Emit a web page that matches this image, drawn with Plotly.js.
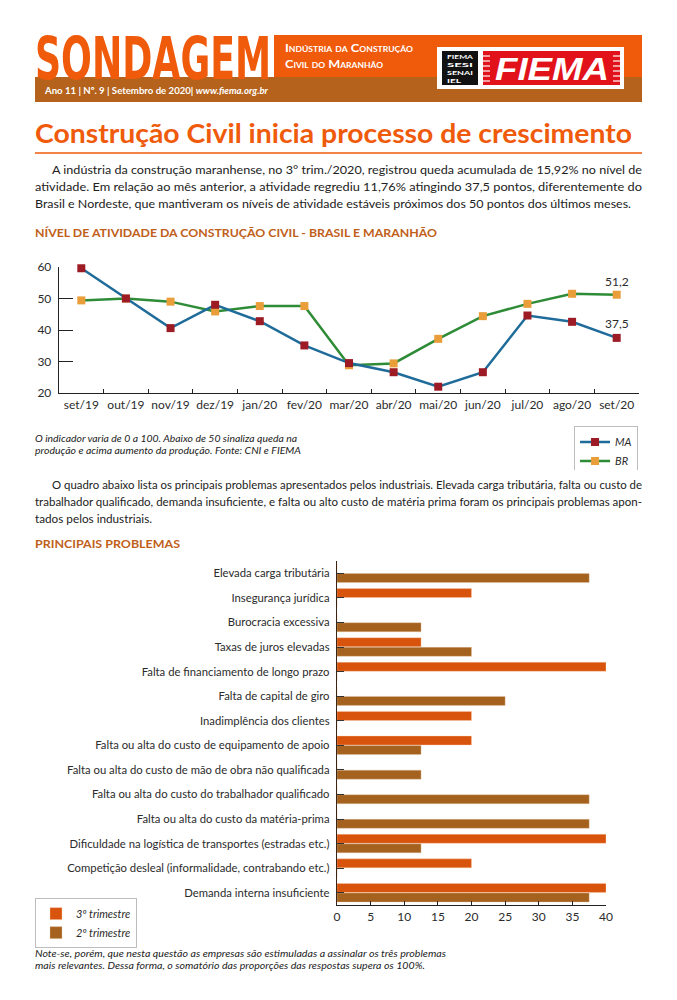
<!DOCTYPE html>
<html>
<head>
<meta charset="utf-8">
<script src="https://cdn.plot.ly/plotly-3.0.1.min.js"></script>
<style>
  html, body { margin: 0; padding: 0; background: #ffffff; }
  #page { position: relative; width: 677px; height: 1000px; overflow: hidden; background: #fff; }
  #bg { position: absolute; left: 0; top: 0; }
  #lineChart { position: absolute; left: 0; top: 250px; width: 677px; height: 220px; }
  #barChart { position: absolute; left: 0; top: 555px; width: 677px; height: 400px; }
  text { font-family: Lato, "Open Sans", sans-serif; }
</style>
</head>
<body>
<div id="page">
<svg id="bg" width="677" height="1000" xmlns="http://www.w3.org/2000/svg">
  <!-- header -->
  <rect x="274" y="35" width="368" height="42" fill="#ef5a0b"/>
  <rect x="35" y="77" width="607" height="25" fill="#b5631c"/>
  <g transform="translate(35,79) scale(1,1.48)">
    <text x="0" y="0" font-weight="bold" font-size="40" fill="#ef5a0b" textLength="236" lengthAdjust="spacingAndGlyphs" style="font-family:'DejaVu Sans Condensed'">SONDAGEM</text>
  </g>
  <text x="285" y="52" font-size="10.5" font-weight="bold" fill="#ffffff" style="font-variant: small-caps" textLength="128" lengthAdjust="spacingAndGlyphs">Indústria da Construção</text>
  <text x="285" y="68" font-size="10.5" font-weight="bold" fill="#ffffff" style="font-variant: small-caps" textLength="98" lengthAdjust="spacingAndGlyphs">Civil do Maranhão</text>
  <rect x="437" y="47" width="187" height="42" fill="#ffffff"/>
  <rect x="442" y="51" width="36" height="34" fill="#111111"/>
  <g fill="#ffffff" font-size="5.5" font-weight="bold">
    <text x="447" y="59" textLength="26" lengthAdjust="spacingAndGlyphs">FIEMA</text>
    <text x="447" y="67" textLength="26" lengthAdjust="spacingAndGlyphs">SESI</text>
    <text x="447" y="75" textLength="26" lengthAdjust="spacingAndGlyphs">SENAI</text>
    <text x="447" y="83" textLength="14" lengthAdjust="spacingAndGlyphs">IEL</text>
  </g>
  <rect x="483" y="51" width="137" height="34" fill="#e2121a"/>
  <g stroke="#ffffff" stroke-width="1.2">
    <line x1="483" y1="56" x2="490" y2="56"/><line x1="483" y1="61" x2="490" y2="61"/><line x1="483" y1="66" x2="490" y2="66"/><line x1="483" y1="71" x2="490" y2="71"/><line x1="483" y1="76" x2="490" y2="76"/><line x1="483" y1="81" x2="490" y2="81"/>
    <line x1="613" y1="56" x2="620" y2="56"/><line x1="613" y1="61" x2="620" y2="61"/><line x1="613" y1="66" x2="620" y2="66"/><line x1="613" y1="71" x2="620" y2="71"/><line x1="613" y1="76" x2="620" y2="76"/><line x1="613" y1="81" x2="620" y2="81"/>
  </g>
  <text x="495" y="80" font-size="31" font-weight="bold" font-style="italic" fill="#ffffff" textLength="114" lengthAdjust="spacingAndGlyphs" style="font-family:'Liberation Sans', Arial, sans-serif">FIEMA</text>
  <text x="45" y="94" font-size="10" font-weight="bold" fill="#ffffff" textLength="223" lengthAdjust="spacingAndGlyphs">Ano 11 | Nº. 9 | Setembro de 2020| <tspan font-style="italic">www.fiema.org.br</tspan></text>

  <!-- title -->
  <text x="35" y="143" font-size="26" font-weight="bold" fill="#ef5a0b" textLength="597" lengthAdjust="spacingAndGlyphs">Construção Civil inicia processo de crescimento</text>
  <line x1="35" y1="153" x2="642" y2="153" stroke="#ef5a0b" stroke-width="1.5"/>

  <g font-size="11.8" fill="#222222">
    <text x="52" y="174" textLength="590" lengthAdjust="spacingAndGlyphs">A indústria da construção maranhense, no 3° trim./2020, registrou queda acumulada de 15,92% no nível de</text>
    <text x="35" y="191" textLength="607" lengthAdjust="spacingAndGlyphs">atividade. Em relação ao mês anterior, a atividade regrediu 11,76% atingindo 37,5 pontos, diferentemente do</text>
    <text x="35" y="208" textLength="596" lengthAdjust="spacingAndGlyphs">Brasil e Nordeste, que mantiveram os níveis de atividade estáveis próximos dos 50 pontos dos últimos meses.</text>
  </g>
  <text x="35" y="237" font-size="11.5" font-weight="bold" fill="#c0601a" textLength="402" lengthAdjust="spacingAndGlyphs">NÍVEL DE ATIVIDADE DA CONSTRUÇÃO CIVIL - BRASIL E MARANHÃO</text>

  <g font-size="9.6" font-style="italic" fill="#222222">
    <text x="35" y="442" textLength="262" lengthAdjust="spacingAndGlyphs">O indicador varia de 0 a 100. Abaixo de 50 sinaliza queda na</text>
    <text x="35" y="454" textLength="266" lengthAdjust="spacingAndGlyphs">produção e acima aumento da produção. Fonte: CNI e FIEMA</text>
  </g>

  <g font-size="11.4" fill="#222222">
    <text x="52" y="489" textLength="590" lengthAdjust="spacingAndGlyphs">O quadro abaixo lista os principais problemas apresentados pelos industriais. Elevada carga tributária, falta ou custo de</text>
    <text x="35" y="506" textLength="607" lengthAdjust="spacingAndGlyphs">trabalhador qualificado, demanda insuficiente, e falta ou alto custo de matéria prima foram os principais problemas apon-</text>
    <text x="35" y="523" textLength="117" lengthAdjust="spacingAndGlyphs">tados pelos industriais.</text>
  </g>
  <text x="35" y="548" font-size="11.5" font-weight="bold" fill="#c0601a" textLength="145" lengthAdjust="spacingAndGlyphs">PRINCIPAIS PROBLEMAS</text>

  <g font-size="9.6" font-style="italic" fill="#222222">
    <text x="35" y="957" textLength="411" lengthAdjust="spacingAndGlyphs">Note-se, porém, que nesta questão as empresas são estimuladas a assinalar os três problemas</text>
    <text x="35" y="969" textLength="390" lengthAdjust="spacingAndGlyphs">mais relevantes. Dessa forma, o somatório das proporções das respostas supera os 100%.</text>
  </g>
</svg>
<div id="lineChart"></div>
<div id="barChart"></div>
</div>
<script>
// ---- Line chart data ----
const months = ['set/19','out/19','nov/19','dez/19','jan/20','fev/20','mar/20','abr/20','mai/20','jun/20','jul/20','ago/20','set/20'];
const maValues = [59.6, 50.0, 40.6, 48.0, 42.8, 35.1, 29.5, 26.6, 22.0, 26.6, 44.6, 42.6, 37.5];
const brValues = [49.4, 50.0, 49.0, 45.9, 47.6, 47.6, 28.8, 29.4, 37.2, 44.4, 48.3, 51.5, 51.2];
const lineYTicks = [20, 30, 40, 50, 60];

// ---- Bar chart data ----
const problems = [
  'Elevada carga tributária',
  'Insegurança jurídica',
  'Burocracia excessiva',
  'Taxas de juros elevadas',
  'Falta de financiamento de longo prazo',
  'Falta de capital de giro',
  'Inadimplência dos clientes',
  'Falta ou alta do custo de equipamento de apoio',
  'Falta ou alta do custo de mão de obra não qualificada',
  'Falta ou alta do custo do trabalhador qualificado',
  'Falta ou alta do custo da matéria-prima',
  'Dificuldade na logística de transportes (estradas etc.)',
  'Competição desleal (informalidade, contrabando etc.)',
  'Demanda interna insuficiente'
];
const q3Values = [0, 20, 0, 12.5, 40, 0, 20, 20, 0, 0, 0, 40, 20, 40];
const q2Values = [37.5, 0, 12.5, 20, 0, 25, 0, 12.5, 12.5, 37.5, 37.5, 12.5, 0, 37.5];
const barXTicks = [0, 5, 10, 15, 20, 25, 30, 35, 40];

const fmt = v => v.toFixed(1).replace('.', ',');
const baseFont = {family: 'Lato, "Open Sans", sans-serif', size: 12, color: '#2b2b2b'};

// ---- Line chart ----
const lineTraces = [
  {
    type: 'scatter', mode: 'lines+markers', name: 'BR', x: months, y: brValues,
    line: {color: '#2e8b36', width: 2.5},
    marker: {symbol: 'square', size: 8, color: '#e99e3a'},
    cliponaxis: false, legendrank: 2
  },
  {
    type: 'scatter', mode: 'lines+markers', name: 'MA', x: months, y: maValues,
    line: {color: '#1f6c9a', width: 2.5},
    marker: {symbol: 'square', size: 8, color: '#9c1b24'},
    cliponaxis: false, legendrank: 1
  }
];
const last = months.length - 1;
const lineLayout = {
  width: 677, height: 220,
  margin: {l: 59, r: 38, t: 17, b: 77, autoexpand: false},
  paper_bgcolor: 'rgba(0,0,0,0)', plot_bgcolor: 'rgba(0,0,0,0)',
  font: baseFont,
  showlegend: true,
  legend: {
    x: 0.888, y: -0.265, xanchor: 'left', yanchor: 'top',
    bordercolor: '#bdbdbd', borderwidth: 1, bgcolor: '#ffffff',
    font: {family: 'Lato, sans-serif', size: 11, color: '#2b2b2b', style: 'italic'},
    itemwidth: 30, tracegroupgap: 0
  },
  xaxis: {
    type: 'category', range: [-0.5, months.length - 0.5],
    showline: true, linecolor: '#222', linewidth: 1.3,
    ticks: 'inside', tickson: 'boundaries', ticklen: 4, tickcolor: '#222',
    showgrid: false, zeroline: false, tickangle: 0, automargin: false,
    tickfont: {family: 'Lato, sans-serif', size: 12, color: '#2b2b2b'}
  },
  yaxis: {
    range: [20, 60], tickvals: lineYTicks,
    showline: true, linecolor: '#222', linewidth: 1.3,
    ticks: 'inside', ticklen: 14, tickcolor: '#222',
    showgrid: false, zeroline: false, ticklabelstandoff: 4, automargin: false,
    tickfont: {family: 'Lato, sans-serif', size: 12, color: '#2b2b2b'}
  },
  annotations: [
    {x: months[last], y: brValues[last], text: fmt(brValues[last]), showarrow: false, yshift: 13, font: {size: 12, color: '#2b2b2b'}},
    {x: months[last], y: maValues[last], text: fmt(maValues[last]), showarrow: false, yshift: 14, font: {size: 12, color: '#2b2b2b'}}
  ]
};
Plotly.newPlot('lineChart', lineTraces, lineLayout, {displayModeBar: false, staticPlot: true});

// ---- Bar chart ----
const barTraces = [
  {
    type: 'bar', orientation: 'h', name: '3º trimestre', y: problems, x: q3Values,
    marker: {color: '#d8540d', line: {color: 'rgba(255,210,180,0.6)', width: 0.6}}
  },
  {
    type: 'bar', orientation: 'h', name: '2º trimestre', y: problems, x: q2Values,
    marker: {color: '#a5621f', line: {color: 'rgba(230,200,170,0.6)', width: 0.6}}
  }
];
const barLayout = {
  width: 677, height: 400,
  margin: {l: 337, r: 71, t: 6, b: 50, autoexpand: false},
  paper_bgcolor: 'rgba(0,0,0,0)', plot_bgcolor: 'rgba(0,0,0,0)',
  font: baseFont,
  barmode: 'group', bargap: 0.22, bargroupgap: 0.06,
  showlegend: true,
  legend: {
    x: -1.1227, y: 0.02, xanchor: 'left', yanchor: 'top',
    bordercolor: '#bdbdbd', borderwidth: 1, bgcolor: '#ffffff',
    traceorder: 'normal',
    font: {family: 'Lato, sans-serif', size: 11, color: '#2b2b2b', style: 'italic'},
    itemwidth: 30, tracegroupgap: 0
  },
  xaxis: {
    range: [0, 40], tickvals: barXTicks,
    showline: true, linecolor: '#222', linewidth: 1.2,
    ticks: 'inside', ticklen: 4, tickcolor: '#222',
    showgrid: false, zeroline: false, automargin: false,
    tickfont: {family: 'Lato, sans-serif', size: 12, color: '#2b2b2b'}
  },
  yaxis: {
    type: 'category', autorange: 'reversed',
    showline: true, linecolor: '#3a2414', linewidth: 1.2,
    ticks: 'inside', ticklen: 7, tickcolor: '#333',
    showgrid: false, zeroline: false, ticklabelstandoff: 4, automargin: false,
    tickfont: {family: 'Lato, sans-serif', size: 11.3, color: '#2b2b2b'}
  }
};
Plotly.newPlot('barChart', barTraces, barLayout, {displayModeBar: false, staticPlot: true});
</script>
</body>
</html>
